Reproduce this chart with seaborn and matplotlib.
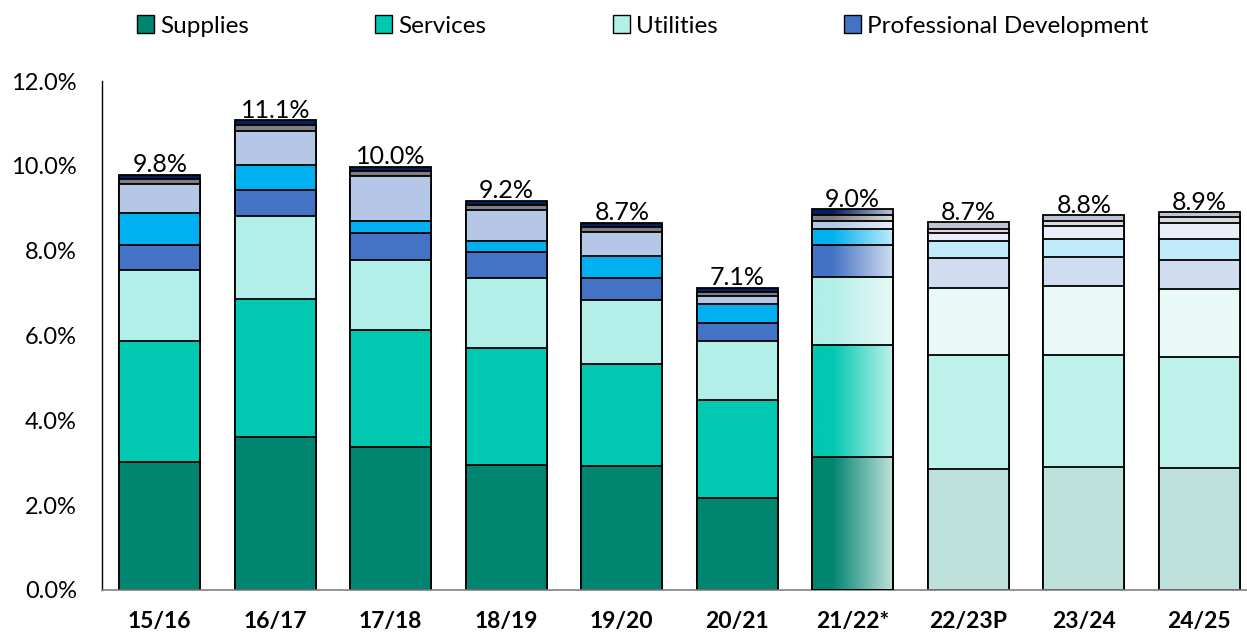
import numpy as np
import pandas as pd
import seaborn as sns
import matplotlib.pyplot as plt
from matplotlib.patches import Patch
from matplotlib.colors import to_rgb

# --- Data (share of budget, %) ---
years = ['15/16', '16/17', '17/18', '18/19', '19/20', '20/21', '21/22*', '22/23P', '23/24', '24/25']
categories = ['Supplies', 'Services', 'Utilities', 'Professional Development',
              'Other A', 'Other B', 'Other C', 'Other D']
supplies = [3.02, 3.61, 3.37, 2.95, 2.92, 2.17, 3.14, 2.85, 2.91, 2.87]
services = [2.85, 3.25, 2.76, 2.76, 2.41, 2.31, 2.64, 2.70, 2.64, 2.63]
utilities = [1.68, 1.96, 1.64, 1.64, 1.51, 1.39, 1.60, 1.58, 1.62, 1.59]
prof_dev = [0.59, 0.61, 0.65, 0.63, 0.51, 0.42, 0.75, 0.69, 0.69, 0.69]
other_a = [0.75, 0.59, 0.29, 0.25, 0.53, 0.45, 0.39, 0.40, 0.42, 0.50]
other_b = [0.68, 0.81, 1.05, 0.72, 0.57, 0.18, 0.18, 0.20, 0.29, 0.38]
other_c = [0.12, 0.14, 0.12, 0.12, 0.10, 0.11, 0.14, 0.10, 0.13, 0.14]
other_d = [0.10, 0.11, 0.10, 0.11, 0.11, 0.10, 0.14, 0.15, 0.14, 0.10]
total_labels = ['9.8%', '11.1%', '10.0%', '9.2%', '8.7%', '7.1%', '9.0%', '8.7%', '8.8%', '8.9%']

series = [supplies, services, utilities, prof_dev, other_a, other_b, other_c, other_d]

# actual colours and the pale ones used for projections
solid_colors = ['#008570', '#00C8B1', '#B2EFE8', '#4472C4', '#00B0F0', '#B4C7E7', '#7F7F7F', '#002060']
pale_colors = ['#BFE1DB', '#BEF1EA', '#E8F9F7', '#D0DDF0', '#BFEBFA', '#E9EEF8', '#D9D9D9', '#BCC5D6']
gradient_year = '21/22*'
projected = ['22/23P', '23/24', '24/25']

plt.rcParams['font.family'] = ['Lato', 'DejaVu Sans']

fig = plt.figure(figsize=(12.47, 6.35), dpi=100)
ax = fig.add_axes([102 / 1247, 45 / 635, 1155 / 1247, 509 / 635])

df = pd.DataFrame({'year': years})
cum = np.cumsum(np.array(series), axis=0)

# stacked bars: draw cumulative totals from the top layer down
for k in range(len(series) - 1, -1, -1):
    df['value'] = cum[k]
    pal = {}
    for y in years:
        if y == gradient_year:
            pal[y] = '#FFFFFF'
        elif y in projected:
            pal[y] = pale_colors[k]
        else:
            pal[y] = solid_colors[k]
    n_before = len(ax.patches)
    sns.barplot(data=df, x='year', y='value', hue='year', palette=pal, legend=False,
                dodge=False, width=0.70, edgecolor='black', linewidth=1.3,
                saturation=1, ax=ax, zorder=2)
    for p in ax.patches[n_before:]:
        if abs(p.get_x() + p.get_width() / 2 - years.index(gradient_year)) < 0.01:
            p.set_facecolor('none')
            p.set_zorder(3)

# gradient fill for the partly-actual year
gi = years.index(gradient_year)
t = np.linspace(0, 1, 200)
frac = np.clip((t - 0.25) / 0.75, 0, 1)
for k in range(len(series)):
    c1 = np.array(to_rgb(solid_colors[k]))
    c2 = np.array(to_rgb(pale_colors[k]))
    row = c1[None, :] * (1 - frac[:, None]) + c2[None, :] * frac[:, None]
    y0 = cum[k - 1][gi] if k > 0 else 0
    y1 = cum[k][gi]
    ax.imshow(row[None, :, :], extent=[gi - 0.35, gi + 0.35, y0, y1],
              aspect='auto', interpolation='bilinear', zorder=1.5)

# total labels
for i, lab in enumerate(total_labels):
    ax.text(i, cum[-1][i] - 0.04, lab, ha='center', va='bottom', fontsize=18, color='black', zorder=4)

ax.set_xlim(-0.5, 9.5)
ax.set_ylim(0, 12)
ax.set_yticks(np.arange(0, 12.1, 2))
ax.set_yticklabels([f'{v:.1f}%' for v in np.arange(0, 12.1, 2)], fontsize=17)
ax.set_xticks(range(len(years)))
ax.set_xticklabels(years, fontsize=16.5, fontweight='bold')
ax.tick_params(axis='both', length=0)
ax.tick_params(axis='x', pad=15)
ax.tick_params(axis='y', pad=18)
ax.set_xlabel('')
ax.set_ylabel('')
for side in ['top', 'right']:
    ax.spines[side].set_visible(False)
ax.spines['left'].set_color('black')
ax.spines['left'].set_linewidth(1.0)
ax.spines['bottom'].set_color('#808080')
ax.spines['bottom'].set_linewidth(1.2)

handles = [Patch(facecolor=solid_colors[k], edgecolor='black', linewidth=1.0) for k in range(4)]
fig.legend(handles, categories[:4], loc='center left', bbox_to_anchor=(137 / 1247, 1 - 26 / 635),
           ncol=4, frameon=False, fontsize=17.5, handlelength=0.7, handleheight=0.7,
           handletextpad=0.25, columnspacing=5.2, borderpad=0, borderaxespad=0)

fig.savefig('out.png', dpi=100)
